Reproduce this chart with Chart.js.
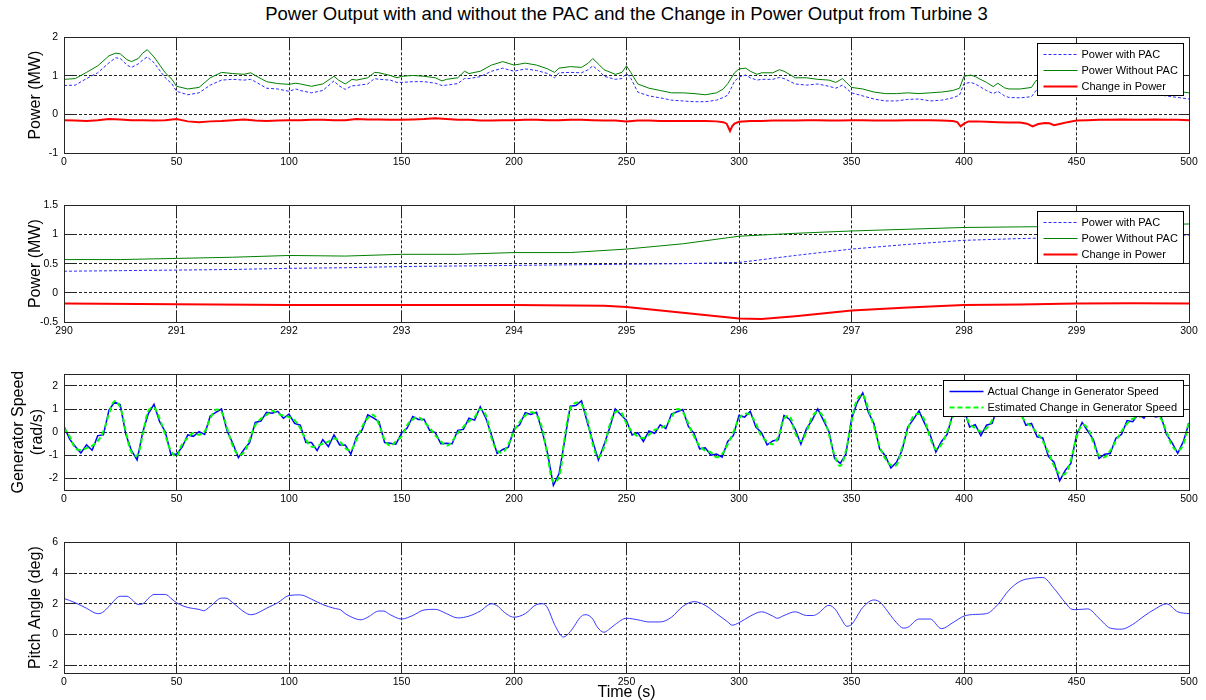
<!DOCTYPE html>
<html>
<head>
<meta charset="utf-8">
<script src="https://cdn.jsdelivr.net/npm/chart.js@4.4.0/dist/chart.umd.min.js"></script>
<style>
  body { margin: 0; background: #fff; }
  #page { position: relative; width: 1206px; height: 700px; font-family: "Liberation Sans", Arial, sans-serif; color: #000; }
  .panel { position: absolute; left: 0; width: 1206px; }
  #title { position: absolute; left: 64px; width: 1125px; top: 3px; text-align: center; font-size: 18.5px; white-space: nowrap; }
  #xlabel { position: absolute; left: 64px; width: 1125px; top: 683px; text-align: center; font-size: 16px; }
</style>
</head>
<body>
<div id="page">
  <div id="title">Power Output with and without the PAC and the Change in Power Output from Turbine 3</div>
  <div class="panel" style="top:25px;height:148px"><canvas id="c1"></canvas></div>
  <div class="panel" style="top:193px;height:149px"><canvas id="c2"></canvas></div>
  <div class="panel" style="top:362px;height:148px"><canvas id="c3"></canvas></div>
  <div class="panel" style="top:530px;height:163px"><canvas id="c4"></canvas></div>
  <div id="xlabel">Time (s)</div>
</div>
<script>
// ---- panel 1: whole run, 0..500 s ----
const TIME_1 = [0,5,10,15,20,23,25,28,30,33,35,37,40,45,48,50,55,60,65,70,
  75,80,83,85,90,95,100,103,105,110,115,120,122,125,128,130,135,138,140,145,
  148,150,155,160,165,168,170,175,178,180,185,190,195,200,205,210,215,218,220,225,
  230,233,235,238,240,245,248,250,252,255,260,265,270,275,280,285,290,293,295,298,
  300,303,305,308,310,315,318,320,325,330,335,340,343,346,348,350,355,360,365,370,
  375,380,385,390,395,398,400,403,405,410,413,415,418,420,425,430,432,435,440,445,
  450,455,460,465,470,475,480,485,490,495,500];
const NO_PAC_1 = [0.91,0.93,1.09,1.26,1.52,1.59,1.57,1.42,1.37,1.45,1.59,1.68,1.49,1.08,0.91,0.73,0.66,0.70,0.95,1.09,
  1.06,1.04,1.08,1.01,0.85,0.80,0.78,0.81,0.79,0.73,0.79,0.99,0.89,0.79,0.91,0.89,0.95,1.09,1.08,1.01,
  0.95,0.99,1.01,0.99,0.95,0.87,0.91,0.95,1.12,1.06,1.12,1.28,1.37,1.28,1.33,1.28,1.18,1.09,1.20,1.24,
  1.22,1.33,1.45,1.28,1.16,1.04,1.09,1.26,1.08,0.79,0.68,0.62,0.56,0.56,0.54,0.51,0.56,0.66,0.80,1.08,
  1.18,1.20,1.12,1.04,1.08,1.08,1.16,1.12,0.95,0.95,0.91,0.89,0.83,0.93,0.81,0.70,0.66,0.58,0.54,0.54,
  0.56,0.54,0.56,0.58,0.62,0.68,0.99,1.02,0.98,0.83,0.72,0.81,0.69,0.66,0.66,0.70,0.88,0.85,0.80,0.78,
  0.76,0.74,0.73,0.73,0.73,0.72,0.71,0.68,0.64,0.60,0.56];
const PAC_1 = [0.75,0.76,0.93,1.08,1.34,1.47,1.45,1.28,1.22,1.31,1.41,1.49,1.34,0.95,0.79,0.60,0.51,0.56,0.76,0.89,
  0.91,0.89,0.91,0.85,0.68,0.66,0.60,0.66,0.62,0.56,0.62,0.87,0.75,0.65,0.74,0.75,0.79,0.93,0.91,0.89,
  0.83,0.83,0.85,0.85,0.81,0.75,0.76,0.80,0.93,0.93,0.98,1.12,1.20,1.12,1.18,1.14,1.06,0.95,1.08,1.09,
  1.08,1.16,1.26,1.12,0.99,0.91,0.93,1.06,0.93,0.58,0.48,0.43,0.37,0.35,0.33,0.33,0.37,0.44,0.50,0.86,
  0.97,1.02,0.95,0.89,0.91,0.91,0.96,0.93,0.79,0.76,0.79,0.73,0.68,0.76,0.66,0.56,0.48,0.40,0.35,0.35,
  0.39,0.40,0.35,0.37,0.43,0.50,0.80,0.83,0.79,0.62,0.54,0.60,0.48,0.44,0.43,0.46,0.62,0.65,0.62,0.60,
  0.58,0.57,0.56,0.56,0.56,0.55,0.54,0.52,0.48,0.44,0.40];
const CHANGE_TIME_1 = [0,5,10,15,20,25,30,35,40,45,50,55,60,65,70,75,80,85,90,95,
  100,105,110,115,120,125,130,135,140,145,150,155,160,165,170,175,180,185,190,195,
  200,205,210,215,220,225,230,235,240,245,250,255,260,265,270,275,280,285,290,
  293,294.5,296,297,298,300,
  305,310,315,320,325,330,335,340,345,350,355,360,365,370,375,380,385,390,395,
  397,398.5,400,402,405,410,415,420,425,
  428,430.5,433,436,438,440,443,446,
  450,455,460,465,470,475,480,485,490,495,500];
const CHANGE_1 = [-0.15,-0.16,-0.17,-0.15,-0.12,-0.13,-0.15,-0.15,-0.16,-0.15,-0.12,-0.18,-0.20,-0.18,-0.17,-0.15,-0.13,-0.16,-0.17,-0.16,
  -0.15,-0.15,-0.14,-0.14,-0.15,-0.15,-0.12,-0.13,-0.13,-0.14,-0.14,-0.13,-0.12,-0.10,-0.12,-0.14,-0.14,-0.16,-0.16,-0.15,
  -0.15,-0.14,-0.14,-0.15,-0.15,-0.14,-0.14,-0.15,-0.16,-0.16,-0.18,-0.16,-0.16,-0.17,-0.17,-0.17,-0.17,-0.17,-0.18,
  -0.20,-0.24,-0.43,-0.30,-0.24,-0.19,
  -0.17,-0.17,-0.16,-0.16,-0.16,-0.15,-0.15,-0.16,-0.16,-0.15,-0.15,-0.16,-0.16,-0.16,-0.15,-0.15,-0.15,-0.16,-0.17,
  -0.20,-0.31,-0.24,-0.18,-0.18,-0.19,-0.20,-0.21,-0.21,
  -0.24,-0.31,-0.25,-0.22,-0.23,-0.28,-0.24,-0.20,
  -0.16,-0.15,-0.14,-0.14,-0.13,-0.14,-0.14,-0.13,-0.14,-0.14,-0.15];

// ---- panel 2: zoom 290..300 s ----
const TIME_2 = [290,290.5,291,291.5,292,292.5,293,293.5,294,294.5,295,295.5,296,296.5,297,297.5,298,298.5,299,299.5,300];
const NO_PAC_2 = [0.57,0.57,0.59,0.61,0.64,0.63,0.66,0.66,0.69,0.69,0.75,0.84,0.97,1.02,1.06,1.09,1.12,1.13,1.14,1.16,1.18];
const PAC_2 = [0.37,0.38,0.39,0.40,0.42,0.43,0.45,0.46,0.47,0.48,0.49,0.50,0.52,0.64,0.75,0.83,0.90,0.93,0.95,0.97,0.99];
const CHANGE_TIME_2 = [290,291,292,293,294,294.8,295,295.5,296,296.2,296.5,297,297.5,298,298.5,299,299.5,300];
const CHANGE_2 = [-0.185,-0.196,-0.21,-0.21,-0.21,-0.22,-0.245,-0.34,-0.44,-0.45,-0.40,-0.305,-0.25,-0.21,-0.20,-0.185,-0.18,-0.185];

// ---- panel 3: generator speed change, sampled every 2.5 s ----
const TIME_3 = [0,2.5,5,7.5,10,12.5,15,17.5,20,22.5, 25,27.5,30,32.5,35,37.5,40,42.5,45,47.5,
  50,52.5,55,57.5,60,62.5,65,67.5,70,72.5, 75,77.5,80,82.5,85,87.5,90,92.5,95,97.5,
  100,102.5,105,107.5,110,112.5,115,117.5,120,122.5, 125,127.5,130,132.5,135,137.5,140,142.5,145,147.5,
  150,152.5,155,157.5,160,162.5,165,167.5,170,172.5, 175,177.5,180,182.5,185,187.5,190,192.5,195,197.5,
  200,202.5,205,207.5,210,212.5,215,217.5,220,222.5, 225,227.5,230,232.5,235,237.5,240,242.5,245,247.5,
  250,252.5,255,257.5,260,262.5,265,267.5,270,272.5, 275,277.5,280,282.5,285,287.5,290,292.5,295,297.5,
  300,302.5,305,307.5,310,312.5,315,317.5,320,322.5, 325,327.5,330,332.5,335,337.5,340,342.5,345,347.5,
  350,352.5,355,357.5,360,362.5,365,367.5,370,372.5, 375,377.5,380,382.5,385,387.5,390,392.5,395,397.5,
  400,402.5,405,407.5,410,412.5,415,417.5,420,422.5, 425,427.5,430,432.5,435,437.5,440,442.5,445,447.5,
  450,452.5,455,457.5,460,462.5,465,467.5,470,472.5, 475,477.5,480,482.5,485,487.5,490,492.5,495,497.5,
  500];
const ACTUAL_3 = [0.25,-0.30,-0.62,-0.90,-0.55,-0.78,-0.15,-0.12,0.95,1.30,
  1.18,-0.10,-0.80,-1.20,0.00,0.80,1.20,0.45,0.02,-0.95,
  -0.95,-0.65,-0.12,-0.18,0.02,-0.10,0.70,0.85,1.00,0.05,
  -0.48,-1.10,-0.75,-0.45,0.42,0.48,0.86,0.82,0.90,0.60,
  0.78,0.38,0.30,-0.45,-0.45,-0.80,-0.32,-0.62,-0.12,-0.55,
  -0.55,-0.95,-0.20,0.10,0.75,0.62,0.45,-0.45,-0.48,-0.52,
  -0.05,0.18,0.68,0.55,0.56,0.08,-0.02,-0.50,-0.48,-0.50,
  0.08,0.12,0.60,0.52,1.10,0.60,-0.12,-0.92,-0.75,-0.65,
  0.15,0.32,0.84,0.76,0.86,0.05,-0.95,-2.30,-1.80,-0.38,
  1.12,1.15,1.35,0.45,-0.40,-1.20,-0.55,0.18,1.00,0.75,
  0.50,-0.12,-0.02,-0.40,0.05,-0.05,0.32,0.15,0.78,0.88,
  0.98,0.25,-0.05,-0.72,-0.68,-1.00,-0.95,-1.08,-0.40,-0.14,
  0.72,0.65,0.90,0.22,-0.02,-0.55,-0.38,-0.32,0.72,0.55,
  0.12,-0.52,0.15,0.52,1.00,0.52,0.02,-1.14,-1.35,-0.95,
  0.56,1.28,1.70,0.86,0.36,-0.72,-1.02,-1.55,-1.30,-0.78,
  0.22,0.55,0.92,0.38,-0.12,-0.86,-0.40,-0.10,0.78,0.88,
  0.98,0.22,0.32,-0.15,0.30,0.38,1.10,1.08,1.32,0.86,
  0.88,0.30,0.38,-0.20,-0.25,-1.05,-1.30,-2.10,-1.65,-1.35,
  -0.12,0.42,0.05,-0.32,-1.14,-0.95,-0.92,-0.26,-0.10,0.50,
  0.45,0.78,0.60,0.98,0.66,0.70,-0.10,-0.46,-0.92,-0.40,
  0.40];
const ESTIMATED_3 = [0.17,-0.18,-0.69,-0.77,-0.69,-0.59,-0.39,0.03,0.79,1.34,
  1.06,0.03,-0.87,-1.01,-0.11,0.92,1.06,0.58,-0.11,-0.80,
  -1.05,-0.52,-0.25,-0.04,-0.11,0.03,0.58,0.97,0.86,0.17,
  -0.59,-0.97,-0.87,-0.32,0.30,0.58,0.74,0.92,0.79,0.72,
  0.65,0.51,0.17,-0.32,-0.63,-0.59,-0.50,-0.41,-0.28,-0.39,
  -0.69,-0.77,-0.32,0.23,0.61,0.74,0.33,-0.32,-0.59,-0.39,
  -0.18,0.30,0.55,0.65,0.44,0.19,-0.14,-0.39,-0.59,-0.39,
  -0.04,0.23,0.47,0.65,0.99,0.72,-0.25,-0.80,-0.87,-0.52,
  0.03,0.44,0.72,0.86,0.74,0.17,-1.08,-2.15,-1.95,-0.25,
  0.99,1.27,1.20,0.58,-0.52,-1.08,-0.66,0.30,0.86,0.86,
  0.37,0.03,-0.18,-0.25,-0.11,0.10,0.17,0.30,0.65,0.99,
  0.86,0.37,-0.18,-0.59,-0.80,-0.87,-1.08,-0.94,-0.52,0.00,
  0.58,0.79,0.74,0.37,-0.18,-0.39,-0.52,-0.18,0.58,0.69,
  -0.04,-0.39,0.03,0.65,0.88,0.65,-0.11,-1.01,-1.46,-0.80,
  0.44,1.41,1.61,0.99,0.23,-0.59,-1.14,-1.42,-1.42,-0.66,
  0.10,0.68,0.79,0.51,-0.25,-0.73,-0.52,0.03,0.65,0.99,
  0.86,0.37,0.17,0.03,0.17,0.51,0.99,1.20,1.20,0.99,
  0.75,0.44,0.23,-0.04,-0.39,-0.87,-1.45,-1.80,-1.80,-1.21,
  -0.25,0.30,0.17,-0.46,-1.01,-1.08,-0.80,-0.39,0.03,0.37,
  0.58,0.65,0.72,0.86,0.79,0.58,0.03,-0.59,-0.80,-0.52,
  0.51];

// ---- panel 4: pitch angle ----
const TIME_4 = [0,5,10,15,17,20,25,28,30,33,35,38,40,45,48,50,55,60,62,65,
  70,72,75,80,83,85,90,95,100,105,110,115,120,123,125,130,132,135,140,142,
  145,150,155,160,165,170,175,180,185,190,193,195,200,205,210,213,215,218,222,225,
  230,232,235,237,240,242,245,250,255,260,265,270,275,280,285,290,295,297,300,305,
  310,315,317,320,325,330,333,335,340,343,345,348,350,355,360,363,365,370,373,375,
  380,385,390,395,400,405,410,415,420,425,430,435,440,445,448,450,455,460,465,470,
  475,480,485,490,495,500];
const PITCH_4 = [2.35,2.07,1.71,1.36,1.43,1.83,2.49,2.49,2.30,1.95,2.00,2.42,2.61,2.61,2.30,2.07,1.76,1.64,1.55,1.83,
  2.37,2.37,2.07,1.48,1.29,1.34,1.71,2.07,2.54,2.58,2.30,1.95,1.71,1.60,1.36,1.01,0.96,1.13,1.53,1.53,
  1.29,1.01,1.24,1.60,1.64,1.36,1.08,1.20,1.53,2.00,1.83,1.53,1.13,1.36,1.95,2.00,1.71,0.66,-0.16,0.19,
  1.20,1.29,1.01,0.49,0.15,0.31,0.66,1.06,0.96,0.82,0.82,1.13,1.83,2.14,1.90,1.36,0.82,0.61,0.77,1.20,
  1.48,1.20,1.06,1.24,1.48,1.24,1.24,1.36,1.90,1.60,1.13,0.54,0.66,1.76,2.25,2.07,1.71,0.77,0.42,0.47,
  1.01,1.01,0.38,0.77,1.20,1.31,1.36,1.95,2.89,3.47,3.66,3.71,3.00,2.07,1.64,1.62,1.67,1.06,0.42,0.35,
  0.66,1.20,1.67,2.00,1.48,1.36];

// ---- axis ticks ----
const X_TICKS_FULL = [0,50,100,150,200,250,300,350,400,450,500];
const X_TICKS_ZOOM = [290,291,292,293,294,295,296,297,298,299,300];
const Y_TICKS_1 = [-1,0,1,2];
const Y_TICKS_2 = [-0.5,0,0.5,1,1.5];
const Y_TICKS_3 = [-2,-1,0,1,2];
const Y_TICKS_4 = [-2,0,2,4,6];

Chart.defaults.font.family = '"Liberation Sans", Arial, sans-serif';
Chart.defaults.color = "#000";

const TICK_LEN = 11;
const alignPx = (p) => Math.round(p - 0.5) + 0.5;

// MATLAB style box with inward ticks, plus a legend drawn inside the axes
const matlabBox = {
  id: "matlabBox",
  afterDraw(chart, args, opts) {
    const { ctx, chartArea: a, scales } = chart;
    const L = alignPx(a.left);
    const R = alignPx(a.right);
    const T = alignPx(a.top);
    const B = alignPx(a.bottom);

    ctx.save();
    ctx.setLineDash([]);
    ctx.lineWidth = 1;
    ctx.strokeStyle = "#262626";
    ctx.beginPath();
    scales.x.ticks.forEach((t) => {
      const px = alignPx(scales.x.getPixelForValue(t.value));
      ctx.moveTo(px, T);
      ctx.lineTo(px, T + TICK_LEN);
      ctx.moveTo(px, B);
      ctx.lineTo(px, B - TICK_LEN);
    });
    scales.y.ticks.forEach((t) => {
      const py = alignPx(scales.y.getPixelForValue(t.value));
      ctx.moveTo(L, py);
      ctx.lineTo(L + TICK_LEN, py);
      ctx.moveTo(R, py);
      ctx.lineTo(R - TICK_LEN, py);
    });
    ctx.stroke();
    ctx.strokeRect(L, T, R - L, B - T);

    if (opts.show) {
      const sets = chart.data.datasets;
      ctx.font = '11px "Liberation Sans", Arial, sans-serif';
      const textW = Math.max(...sets.map((d) => ctx.measureText(d.label).width));
      const w = Math.round(44 + textW + 6);
      const h = sets.length * 16 + 4;
      const x0 = R - 6 - w;
      const y0 = T + 6;
      ctx.fillStyle = "#fff";
      ctx.fillRect(x0, y0, w, h);
      ctx.strokeStyle = "#000";
      ctx.strokeRect(x0, y0, w, h);
      sets.forEach((d, i) => {
        const cy = Math.round(y0 + 10 + i * 16) + 0.5;
        ctx.strokeStyle = d.borderColor;
        ctx.lineWidth = d.borderWidth;
        ctx.setLineDash(d.borderDash || []);
        ctx.beginPath();
        ctx.moveTo(x0 + 6, cy);
        ctx.lineTo(x0 + 40, cy);
        ctx.stroke();
        ctx.setLineDash([]);
        ctx.fillStyle = "#000";
        ctx.textAlign = "left";
        ctx.textBaseline = "middle";
        ctx.fillText(d.label, x0 + 44, cy);
      });
    }
    ctx.restore();
  },
};

function series(label, times, values, style) {
  return {
    label: label,
    data: times.map((t, i) => ({ x: t, y: values[i] })),
    borderColor: style.color,
    borderWidth: style.width,
    borderDash: style.dash || [],
    tension: style.tension || 0,
    cubicInterpolationMode: style.mode || "default",
    order: style.order || 0,
    pointRadius: 0,
    fill: false,
  };
}

function makePanel(id, p) {
  return new Chart(document.getElementById(id), {
    type: "line",
    data: { datasets: p.datasets },
    options: {
      responsive: true,
      maintainAspectRatio: false,
      animation: false,
      events: [],
      layout: { padding: { top: 8, right: 17, bottom: 0, left: 0 } },
      plugins: {
        legend: { display: false },
        tooltip: { enabled: false },
        matlabBox: { show: p.legend },
      },
      scales: {
        x: {
          type: "linear",
          min: p.xTicks[0],
          max: p.xTicks[p.xTicks.length - 1],
          afterBuildTicks: (s) => {
            s.ticks = p.xTicks.map((v) => ({ value: v }));
          },
          afterFit: (s) => {
            s.height = 20;
          },
          grid: { color: "#222", lineWidth: 1, drawTicks: false },
          border: { display: false, dash: [3, 2] },
          ticks: {
            font: { size: 10.5 },
            padding: 3,
            maxRotation: 0,
            autoSkip: false,
            callback: (v) => String(v),
          },
        },
        y: {
          type: "linear",
          min: p.yMin,
          max: p.yMax,
          afterBuildTicks: (s) => {
            s.ticks = p.yTicks.map((v) => ({ value: v }));
          },
          afterFit: (s) => {
            s.width = 64;
          },
          grid: { color: "#222", lineWidth: 1, drawTicks: false },
          border: { display: false, dash: [3, 2] },
          ticks: {
            font: { size: 10.5 },
            padding: 6,
            callback: (v) => String(v),
          },
          title: {
            display: true,
            text: p.yTitle,
            color: "#000",
            font: { size: 16 },
            padding: { top: p.titlePad, bottom: 0 },
          },
        },
      },
    },
    plugins: [matlabBox],
  });
}

const PAC_STYLE = { color: "#2b2bff", width: 1, dash: [3, 2] };
const NO_PAC_STYLE = { color: "#008000", width: 1 };
const CHANGE_STYLE = { color: "#ff0000", width: 2 };

makePanel("c1", {
  xTicks: X_TICKS_FULL, yTicks: Y_TICKS_1, yMin: -1, yMax: 2,
  yTitle: "Power (MW)", titlePad: 26, legend: true,
  datasets: [
    series("Power with PAC", TIME_1, PAC_1, PAC_STYLE),
    series("Power Without PAC", TIME_1, NO_PAC_1, NO_PAC_STYLE),
    series("Change in Power", CHANGE_TIME_1, CHANGE_1, CHANGE_STYLE),
  ],
});

makePanel("c2", {
  xTicks: X_TICKS_ZOOM, yTicks: Y_TICKS_2, yMin: -0.5, yMax: 1.5,
  yTitle: "Power (MW)", titlePad: 26, legend: true,
  datasets: [
    series("Power with PAC", TIME_2, PAC_2, PAC_STYLE),
    series("Power Without PAC", TIME_2, NO_PAC_2, NO_PAC_STYLE),
    series("Change in Power", CHANGE_TIME_2, CHANGE_2, CHANGE_STYLE),
  ],
});

makePanel("c3", {
  xTicks: X_TICKS_FULL, yTicks: Y_TICKS_3, yMin: -2.5, yMax: 2.5,
  yTitle: ["Generator Speed", "(rad/s)"], titlePad: 9, legend: true,
  datasets: [
    series("Actual Change in Generator Speed", TIME_3, ACTUAL_3, { color: "#0000ff", width: 1.5, order: 1 }),
    series("Estimated Change in Generator Speed", TIME_3, ESTIMATED_3, { color: "#00ff00", width: 2, dash: [5, 3], tension: 0.4, order: 0 }),
  ],
});

makePanel("c4", {
  xTicks: X_TICKS_FULL, yTicks: Y_TICKS_4, yMin: -2.5, yMax: 6,
  yTitle: "Pitch Angle (deg)", titlePad: 26, legend: false,
  datasets: [
    series("Pitch Angle", TIME_4, PITCH_4, { color: "#3a3aff", width: 1, mode: "monotone" }),
  ],
});
</script>
</body>
</html>
